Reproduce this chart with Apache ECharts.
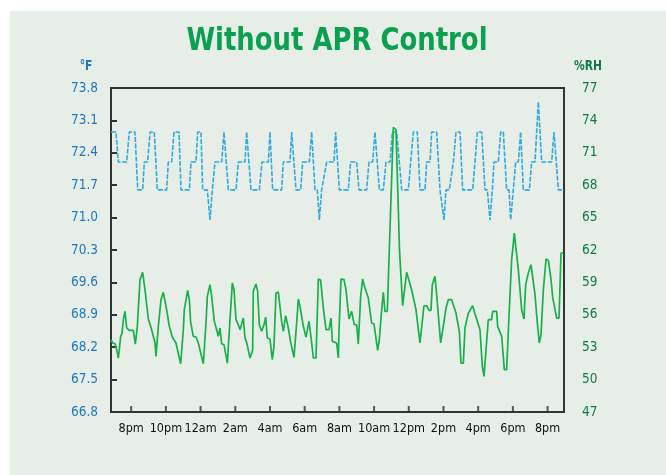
<!DOCTYPE html>
<html><head><meta charset="utf-8">
<script src="https://cdn.jsdelivr.net/npm/echarts@6/dist/echarts.min.js"></script>
<style>html,body{margin:0;padding:0;background:#fff}#c{width:666px;height:475px}</style>
</head><body><div id="c"></div>
<script>
// X values are hours after 8pm (day 1)
const timeTicks = [0,2,4,6,8,10,12,14,16,18,20,22,24];
const timeLabels = ['8pm','10pm','12am','2am','4am','6am','8am','10am','12pm','2pm','4pm','6pm','8pm'];
const tempTicks = [66.8,67.5,68.2,68.9,69.6,70.3,71.0,71.7,72.4,73.1,73.8];
const rhTicks = [47,50,53,56,59,62,65,68,71,74,77];
const xStartHour = -1.164, xEndHour = 24.947;

const tempHours = [-1.164,-0.876,-0.742,-0.261,-0.108,0.219,0.373,0.661,0.757,0.949,1.084,1.333,1.506,2.044,2.140,2.332,2.467,2.755,2.870,3.351,3.447,3.735,3.831,4.023,4.119,4.388,4.542,4.676,4.830,5.214,5.349,5.445,5.599,6.041,6.175,6.559,6.655,6.751,6.905,7.385,7.539,7.904,8.000,8.154,8.672,8.768,9.153,9.249,9.345,9.499,9.768,9.883,10.267,10.402,10.594,10.728,10.843,10.978,11.266,11.689,11.785,11.997,12.515,12.649,12.995,13.129,13.571,13.706,13.917,14.052,14.109,14.302,14.533,14.686,14.917,15.052,15.302,15.456,15.590,15.974,16.109,16.262,16.493,16.647,16.935,17.030,17.223,17.319,17.607,17.799,17.895,18.030,18.145,18.337,18.568,18.722,18.953,19.106,19.683,19.817,19.952,20.202,20.394,20.528,20.682,20.816,20.912,21.162,21.296,21.450,21.642,21.777,21.873,22.026,22.161,22.315,22.449,22.603,22.949,23.083,23.276,23.468,23.660,24.236,24.371,24.621,24.947];
const tempValues = [72.85,72.85,72.2,72.2,72.85,72.85,71.6,71.6,72.2,72.2,72.85,72.85,71.6,71.6,72.2,72.2,72.85,72.85,71.6,71.6,72.2,72.2,72.85,72.85,71.6,71.6,70.95,71.6,72.2,72.2,72.85,72.85,71.6,71.6,72.2,72.2,72.85,72.85,71.6,71.6,72.2,72.2,72.85,71.6,71.6,72.2,72.2,72.85,72.85,71.6,71.6,72.2,72.2,72.85,71.6,71.6,70.95,71.6,72.2,72.2,72.85,71.6,71.6,72.2,72.2,71.6,71.6,72.2,72.2,72.85,72.85,71.6,71.6,72.2,72.2,72.85,72.85,72.2,71.6,71.6,72.2,72.85,72.85,71.6,71.6,72.2,72.2,72.85,72.85,71.6,71.6,70.95,71.6,71.6,72.2,72.85,72.85,71.6,71.6,72.2,72.85,72.85,71.6,71.6,70.95,71.6,72.2,72.2,72.85,72.85,71.6,71.6,70.95,71.6,72.2,72.2,72.85,71.6,71.6,72.2,72.2,73.5,72.2,72.2,72.85,71.6,71.6];

const rhHours = [-1.164,-1.068,-0.934,-0.838,-0.742,-0.684,-0.607,-0.530,-0.453,-0.357,-0.261,-0.108,0.123,0.238,0.354,0.507,0.661,0.795,0.988,1.180,1.372,1.429,1.564,1.718,1.852,1.929,2.044,2.198,2.371,2.467,2.582,2.678,2.851,3.005,3.062,3.255,3.351,3.428,3.580,3.735,3.869,3.965,4.157,4.311,4.388,4.542,4.638,4.792,4.926,5.022,5.118,5.214,5.349,5.541,5.695,5.829,5.925,6.041,6.175,6.271,6.367,6.463,6.559,6.655,6.751,6.847,7.001,7.039,7.193,7.289,7.385,7.520,7.654,7.750,7.846,8.000,8.134,8.230,8.346,8.480,8.576,8.672,8.768,8.903,9.057,9.191,9.287,9.384,9.537,9.634,9.730,9.826,9.922,10.076,10.249,10.403,10.499,10.652,10.787,10.921,11.075,11.229,11.402,11.517,11.594,11.709,11.844,11.940,11.977,12.093,12.266,12.381,12.554,12.707,12.803,12.861,12.996,13.091,13.226,13.341,13.476,13.668,13.860,13.994,14.206,14.302,14.436,14.532,14.628,14.763,15.109,15.263,15.301,15.470,15.647,15.877,15.973,16.165,16.261,16.415,16.645,16.876,17.030,17.164,17.280,17.357,17.511,17.607,17.837,17.991,18.145,18.279,18.471,18.721,18.913,19.009,19.144,19.240,19.432,19.528,19.682,19.816,20.105,20.239,20.335,20.489,20.585,20.777,20.835,21.066,21.123,21.354,21.508,21.642,21.776,21.930,22.084,22.180,22.314,22.507,22.641,22.738,22.891,23.045,23.122,23.276,23.410,23.526,23.622,23.757,23.911,24.045,24.199,24.295,24.391,24.525,24.660,24.775,24.910];
const rhValues = [53.69,53.39,53.32,52.77,52.0,52.83,54.0,54.25,55.55,56.32,54.78,54.56,54.56,53.29,54.93,59.25,59.93,58.32,55.61,54.62,53.39,52.15,54.93,57.40,58.08,58.08,56.47,54.93,53.94,53.94,53.39,53.32,51.47,54.62,56.47,58.26,57.40,55.30,54.0,53.94,53.39,53.23,51.47,55.24,57.71,58.79,57.71,55.39,54.62,54.0,54.78,53.32,53.23,51.53,55.55,58.94,58.32,55.55,55.08,54.62,54.53,55.70,53.85,53.45,53.39,52.0,52.71,58.17,58.85,58.17,55.08,54.47,55.08,55.79,53.85,53.76,51.84,53.08,58.02,58.11,58.02,55.39,54.47,55.92,54.78,53.45,53.39,52.06,55.24,57.46,56.78,56.72,54.93,53.94,55.39,53.39,52.0,52.0,59.31,59.19,56.63,54.62,54.62,55.70,53.54,53.39,53.39,52.0,54.47,59.31,59.25,58.32,55.61,56.32,56.23,55.08,55.08,53.29,57.71,59.31,58.48,57.55,55.24,55.15,52.71,53.69,56.47,58.08,56.32,56.32,73.36,73.14,72.99,61.8,56.84,59.93,59.87,58.32,58.17,56.47,53.39,56.84,56.84,56.41,56.41,58.79,59.56,57.86,53.39,54.93,56.63,57.40,57.40,56.16,54.47,51.53,51.53,54.78,56.16,56.23,56.84,56.10,54.62,51.23,50.30,53.54,55.55,55.55,56.32,56.32,54.93,54.0,50.92,50.92,55.86,61.10,63.57,63.63,60.18,56.47,55.61,58.79,59.87,60.64,60.64,57.86,55.24,53.39,54.16,58.32,61.16,61.04,59.25,57.61,57.55,55.70,55.70,61.72,61.72];

const HOUR = 3600 * 1000;
const BASE = Date.UTC(2024, 0, 1, 20, 0, 0); // 8pm, day 1
const toTime = h => BASE + Math.round(h * HOUR);
const zip = (a,b)=>a.map((x,i)=>[toTime(x),b[i]]);
const timeLabelFor = v => {
  const h = (v - BASE) / HOUR;
  const i = timeTicks.findIndex(t => Math.abs(t - h) < 0.01);
  return i < 0 ? '' : timeLabels[i];
};
const chart = echarts.init(document.getElementById('c'), null, {renderer:'canvas'});
const FONT = '"DejaVu Sans Condensed","Liberation Sans Narrow",sans-serif';
chart.setOption({
  useUTC:true,
  backgroundColor:'#ffffff',
  animation:false,
  graphic:[
    {type:'rect', shape:{x:10,y:11,width:660,height:470}, style:{fill:'#e7eee7'}, z:-10},
    {type:'text', x:337, y:42, scaleX:0.9, style:{text:'Without APR Control', fill:'#0aa04f', font:'bold 32px "DejaVu Sans Condensed",sans-serif', textAlign:'center', textVerticalAlign:'middle'}},
    {type:'text', x:86, y:66, scaleX:0.85, style:{text:'°F', fill:'#1f78c1', font:'bold 14px "DejaVu Sans Condensed",sans-serif', textAlign:'center', textVerticalAlign:'middle'}},
    {type:'text', x:588, y:66, scaleX:0.85, style:{text:'%RH', fill:'#127a48', font:'bold 14px "DejaVu Sans Condensed",sans-serif', textAlign:'center', textVerticalAlign:'middle'}}
  ],
  grid:{left:111, right:102, top:88, bottom:63, show:true, borderColor:'#333', borderWidth:2, backgroundColor:'transparent'},
  xAxis:{type:'time', min:toTime(xStartHour), max:toTime(xEndHour), minInterval:2*HOUR, maxInterval:2*HOUR, position:'bottom',
    splitLine:{show:false},
    axisLine:{show:true, onZero:false, lineStyle:{color:'#333', width:2}},
    axisTick:{show:false},
    axisLabel:{showMinLabel:false, showMaxLabel:false, hideOverlap:false, margin:10, color:'#111', fontSize:12.5, fontWeight:'normal', fontFamily:FONT,
      formatter:timeLabelFor}},
  yAxis:[
    {type:'value', min:66.8, max:73.8, position:'left',
      axisLine:{show:true, onZero:false, lineStyle:{color:'#333', width:2}}, splitLine:{show:false},
      axisTick:{show:true, inside:true, length:6, customValues:tempTicks, lineStyle:{color:'#333', width:2}},
      axisLabel:{customValues:tempTicks, margin:13, color:'#1f78c1', fontSize:13.5, fontFamily:FONT, formatter:v=>v.toFixed(1)}},
    {type:'value', min:47, max:77, position:'right',
      axisLine:{show:true, onZero:false, lineStyle:{color:'#333', width:2}}, splitLine:{show:false}, axisTick:{show:false},
      axisLabel:{customValues:rhTicks, margin:18, color:'#127a48', fontSize:13.5, fontFamily:FONT}}
  ],
  series:[
    {type:'line', name:'Temp', xAxisIndex:0, yAxisIndex:0, data:zip(tempHours,tempValues), symbol:'none',
      lineStyle:{color:'#33a9e0', width:1.6, type:[5,1.5]}},
    {type:'line', name:'RH', xAxisIndex:0, yAxisIndex:1, data:zip(rhHours,rhValues), symbol:'none',
      lineStyle:{color:'#17b04a', width:1.7}},
    {type:'scatter', name:'xTicks', xAxisIndex:0, yAxisIndex:0, silent:true, clip:false, z:5,
      data:timeTicks.map(h => [toTime(h), tempTicks[0]]),
      symbol:'rect', symbolSize:[2,6], symbolOffset:[0,-3], itemStyle:{color:'#333'}}
  ]
});
</script></body></html>
